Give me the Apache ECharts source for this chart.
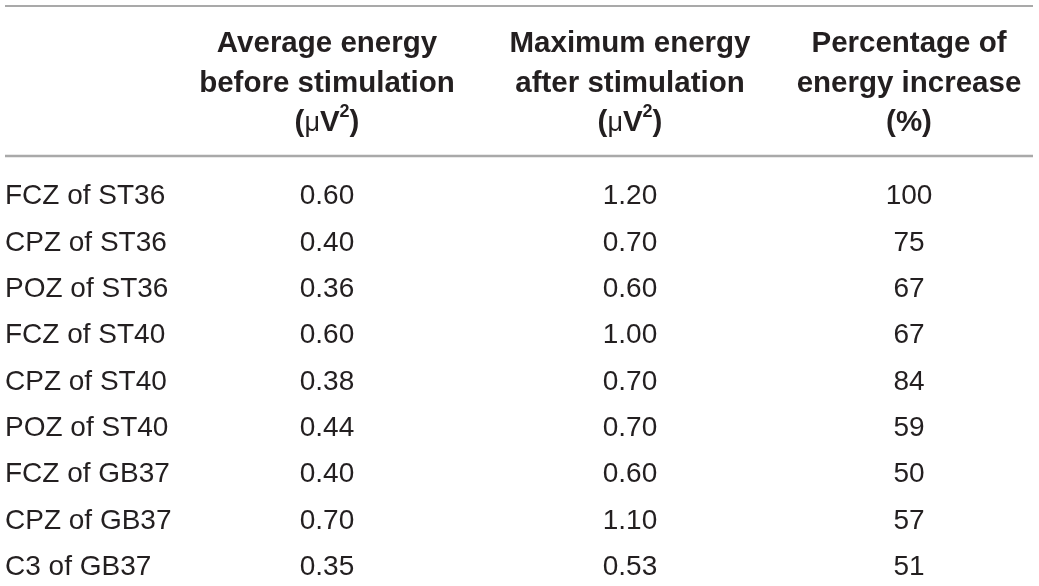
<!DOCTYPE html>
<html lang="en">
<head>
<meta charset="UTF-8">
<title>Energy before and after stimulation</title>
<script src="https://cdn.jsdelivr.net/npm/echarts@6/dist/echarts.min.js"></script>
<style>
  html, body { margin: 0; padding: 0; background: #fff; }
  #main { width: 1039px; height: 586px; }
</style>
</head>
<body>
<div id="main"></div>
<script type="text/javascript">
// table data
var rowNames = ['FCZ of ST36', 'CPZ of ST36', 'POZ of ST36', 'FCZ of ST40', 'CPZ of ST40',
                'POZ of ST40', 'FCZ of GB37', 'CPZ of GB37', 'C3 of GB37'];
var headers = ['Average energy\nbefore stimulation\n(μV^2)',
               'Maximum energy\nafter stimulation\n(μV^2)',
               'Percentage of\nenergy increase\n(%)'];
var avgBefore = [0.60, 0.40, 0.36, 0.60, 0.38, 0.44, 0.40, 0.70, 0.35];
var maxAfter  = [1.20, 0.70, 0.60, 1.00, 0.70, 0.70, 0.60, 1.10, 0.53];
var pctIncrease = [100, 75, 67, 67, 84, 59, 50, 57, 51];

var FONT = '"Liberation Sans", Arial, Helvetica, sans-serif';
var INK = '#231f20';
var RULE = '#a9a9a9';
// small horizontal nudge per column (table columns are not evenly spaced)
var colShift = [0, 12, 0];

// header text -> rich text (superscript for ^2, thin mu)
function headerRich(txt, idx) {
    var pad = colShift[idx] * 2;
    return txt.split('\n').map(function (line) {
        var out;
        if (line === '(μV^2)') {
            out = '{h|(}{mu|μ}{h|V}{sup|2}{h|)}';
        } else {
            out = '{h|' + line + '}';
        }
        if (pad) out = '{p|}' + out;
        return out;
    }).join('\n');
}

function valueSeries(vals, col, digits) {
    return {
        type: 'scatter',
        data: vals.map(function (v, i) { return [col, i, v]; }),
        symbolSize: 0,
        itemStyle: { color: INK, opacity: 1 },
        silent: true,
        label: {
            show: true,
            position: 'inside',
            offset: [colShift[col], 0],
            fontFamily: FONT,
            fontSize: 28,
            color: INK,
            opacity: 1,
            textBorderWidth: 0,
            formatter: function (p) { return p.value[2].toFixed(digits); }
        }
    };
}

var chart = echarts.init(document.getElementById('main'));
chart.setOption({
    backgroundColor: '#ffffff',
    animation: false,
    grid: { left: 327, top: 196.5, width: 582, height: 371, containLabel: false },
    xAxis: {
        type: 'category',
        position: 'top',
        boundaryGap: false,
        data: headers,
        axisLine: { show: false },
        axisTick: { show: false },
        splitLine: { show: false },
        axisLabel: {
            interval: 0,
            margin: 53.5,
            lineHeight: 39.5,
            formatter: function (v, i) { return headerRich(v, i); },
            rich: {
                h: { fontFamily: FONT, fontWeight: 'bold', fontSize: 29.5, color: INK, lineHeight: 39.5 },
                mu: { fontFamily: FONT, fontWeight: 'normal', fontSize: 27, color: INK, lineHeight: 39.5 },
                sup: { fontFamily: FONT, fontWeight: 'bold', fontSize: 18, color: INK, lineHeight: 28, verticalAlign: 'top' },
                p: { width: 24, lineHeight: 39.5 }
            }
        }
    },
    yAxis: {
        type: 'category',
        inverse: true,
        boundaryGap: false,
        data: rowNames,
        axisLine: { show: false },
        axisTick: { show: false },
        splitLine: { show: false },
        axisLabel: {
            interval: 0,
            align: 'left',
            margin: 322,
            fontFamily: FONT,
            fontSize: 28,
            color: INK
        }
    },
    graphic: [
        { type: 'line', silent: true, shape: { x1: 5, y1: 6, x2: 1033, y2: 6 },
          style: { stroke: RULE, lineWidth: 2 } },
        { type: 'line', silent: true, shape: { x1: 5, y1: 156, x2: 1033, y2: 156 },
          style: { stroke: RULE, lineWidth: 2.5 } }
    ],
    series: [
        valueSeries(avgBefore, 0, 2),
        valueSeries(maxAfter, 1, 2),
        valueSeries(pctIncrease, 2, 0)
    ]
});
</script>
</body>
</html>
